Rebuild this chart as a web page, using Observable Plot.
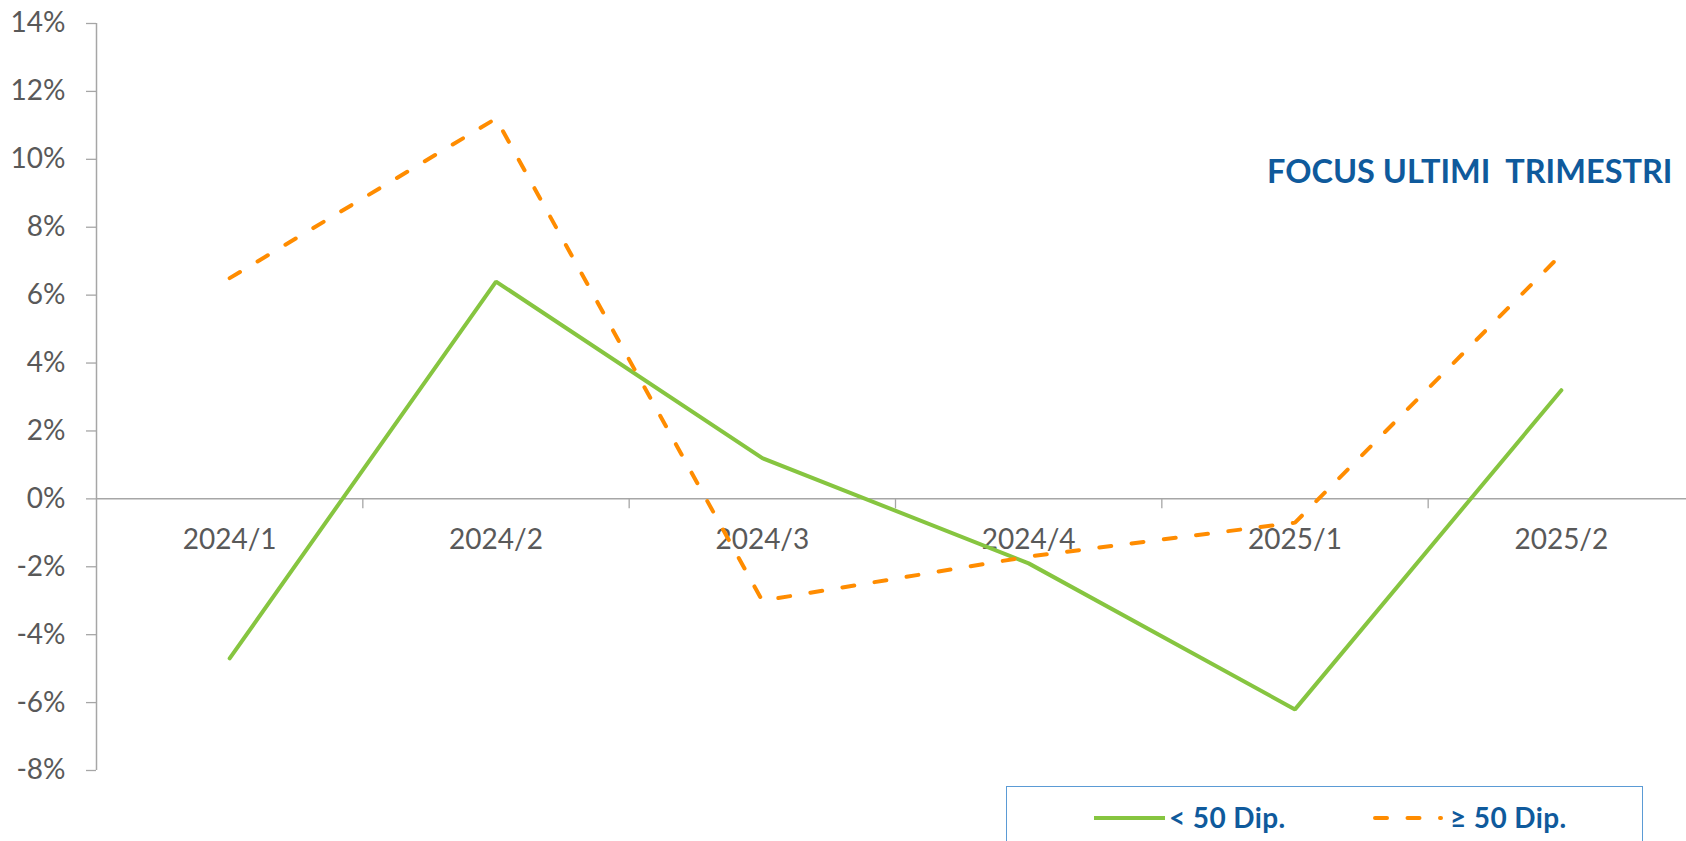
<!DOCTYPE html>
<html>
<head>
<meta charset="utf-8">
<script src="https://cdn.jsdelivr.net/npm/d3@7"></script>
<script src="https://cdn.jsdelivr.net/npm/@observablehq/plot@0.6"></script>
<style>
  html, body { margin: 0; padding: 0; background: #fff; overflow: hidden; }
  #chart { position: relative; width: 1686px; height: 841px; font-family: Lato, sans-serif; }
  #legend { position: absolute; left: 1006px; top: 786px; width: 637px; height: 90px;
            border: 1px solid #5B9BD5; box-sizing: border-box; background: #fff; }
  #legend .lbl { position: absolute; top: 10px; line-height: 40px; font-size: 28px; font-weight: 700;
                 letter-spacing: 0.4px; color: #0F5A9C; white-space: nowrap; }
  #legend svg { position: absolute; top: 26px; overflow: visible; }
</style>
</head>
<body>
<div id="chart"></div>
<script>
// ---- data ----
const categories = ["2024/1", "2024/2", "2024/3", "2024/4", "2025/1", "2025/2"];
const under50 = [-4.7, 6.4, 1.2, -1.9, -6.2, 3.2];   // < 50 Dip.
const over50  = [6.5, 11.2, -3.0, -1.7, -0.7, 7.2];   // ≥ 50 Dip.
const seriesNames = ["< 50 Dip.", "\u2265 50 Dip."];
const yTicks = [-8, -6, -4, -2, 0, 2, 4, 6, 8, 10, 12, 14];
const title = "FOCUS ULTIMI\u00A0 TRIMESTRI";

const green = "#86C540";
const orange = "#FF8C00";
const blue = "#0F5A9C";
const axisGray = "#A6A6A6";
const textGray = "#595959";

const rowsA = categories.map((c, i) => ({i, c, v: under50[i]}));
const rowsB = categories.map((c, i) => ({i, c, v: over50[i]}));
const idx = categories.map((c, i) => i);
const boundaries = categories.slice(1).map((c, i) => i + 0.5);

const plot = Plot.plot({
  width: 1686,
  height: 786,
  marginLeft: 96,
  marginRight: -8,
  marginTop: 23,
  marginBottom: 16,
  style: {fontFamily: "Lato, sans-serif", background: "#fff", overflow: "visible"},
  x: {domain: [-0.5, categories.length - 0.5], axis: null},
  y: {domain: [yTicks[0], yTicks[yTicks.length - 1]], axis: null},
  marks: [
    Plot.axisY({ticks: yTicks, tickFormat: d => d + "%", tickSize: 10, tickPadding: 21,
                fontSize: 28, stroke: axisGray, fill: textGray, label: null, strokeWidth: 1.3}),
    Plot.ruleX([-0.5], {stroke: axisGray, strokeWidth: 1.5}),
    Plot.ruleY([0], {stroke: axisGray, strokeWidth: 1.5}),
    Plot.ruleX(boundaries, {y1: 0, y2: 0, insetBottom: -10, stroke: axisGray, strokeWidth: 1.3}),
    Plot.text(idx, {x: d => d, y: 0, text: d => categories[d], dy: 41, fontSize: 28,
                    fill: textGray, textAnchor: "middle", lineAnchor: "middle"}),
    Plot.line(rowsA, {x: "i", y: "v", stroke: green, strokeWidth: 4, strokeLinejoin: "miter"}),
    Plot.line(rowsB, {x: "i", y: "v", stroke: orange, strokeWidth: 4, strokeDasharray: "12,20.5",
                      strokeLinecap: "round", strokeLinejoin: "miter"}),
    Plot.text([title], {frameAnchor: "top-right", dx: -22, dy: 149, fontSize: 32.5, fontWeight: 700,
                        fill: blue, textAnchor: "end", lineAnchor: "middle"})
  ]
});

const chart = document.getElementById("chart");
chart.appendChild(plot);

// ---- legend ----
const legend = document.createElement("div");
legend.id = "legend";
legend.innerHTML = `
  <svg width="80" height="10" style="left:85px"><line x1="2" y1="5" x2="73" y2="5" stroke="${green}" stroke-width="4"/></svg>
  <span class="lbl" style="left:162px">${seriesNames[0]}</span>
  <svg width="80" height="10" style="left:366px"><line x1="2" y1="5" x2="68" y2="5" stroke="${orange}" stroke-width="4" stroke-dasharray="12,20.5" stroke-linecap="round"/></svg>
  <span class="lbl" style="left:443px">${seriesNames[1]}</span>`;
chart.appendChild(legend);
</script>
</body>
</html>
